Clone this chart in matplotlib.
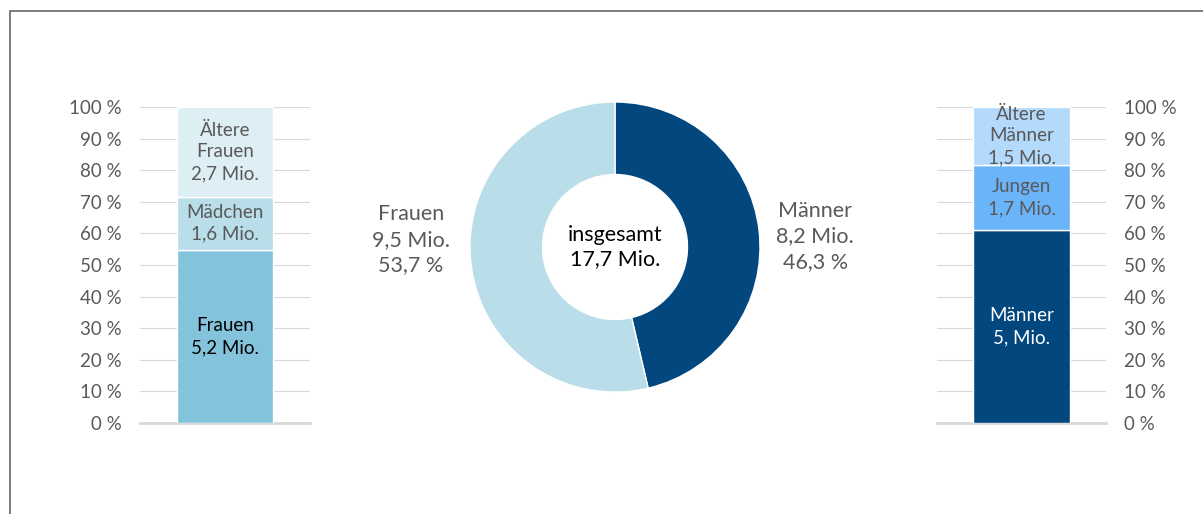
import matplotlib
matplotlib.use("Agg")
import matplotlib.pyplot as plt
from matplotlib.patches import Rectangle
import numpy as np

plt.rcParams["font.family"] = ["Lato", "DejaVu Sans"]

# Donut: total split
donut_labels = ["Männer", "Frauen"]
donut_values = [8.2, 9.5]
donut_shares = ["46,3 %", "53,7 %"]
donut_total = "17,7 Mio."

# Left stacked bar (women)
women_labels = ["Frauen\n5,2 Mio.", "Mädchen\n1,6 Mio.", "Ältere\nFrauen\n2,7 Mio."]
women_values = [5.2, 1.6, 2.7]

# Right stacked bar (men)
men_labels = ["Männer\n5, Mio.", "Jungen\n1,7 Mio.", "Ältere\nMänner\n1,5 Mio."]
men_values = [5.0, 1.7, 1.5]

pct_ticks = np.arange(0, 101, 10)
pct_labels = [f"{t} %" for t in pct_ticks]

GRAY = "#595959"
GRID = "#d9d9d9"

fig = plt.figure(figsize=(12.03, 5.14), dpi=100)

# outer frame
fig.patches.append(Rectangle((10 / 1203, -0.01), 1.1, (514 - 11) / 514 + 0.01,
                             transform=fig.transFigure, fill=False,
                             edgecolor="#666666", linewidth=1.2))


def stacked_bar(ax, values, labels, colors, text_colors, side):
    total = sum(values)
    pct = [v / total * 100 for v in values]
    bottom = 0
    for p, lab, c, tc in zip(pct, labels, colors, text_colors):
        ax.bar(0.5, p, width=0.57, bottom=bottom, color=c,
               edgecolor="white", linewidth=1, zorder=3)
        ax.text(0.5, bottom + p / 2, lab, ha="center", va="center",
                fontsize=13.5, color=tc, linespacing=1.35, zorder=4)
        bottom += p
    ax.set_xlim(0, 1)
    ax.set_ylim(0, 100)
    ax.set_yticks(pct_ticks)
    ax.set_yticklabels(pct_labels, fontsize=13.5, color=GRAY)
    ax.set_xticks([])
    ax.grid(axis="y", color=GRID, linewidth=0.8, zorder=0)
    for s in ["top", "left", "right"]:
        ax.spines[s].set_visible(False)
    ax.spines["bottom"].set_color(GRID)
    ax.spines["bottom"].set_linewidth(2)
    if side == "right":
        ax.yaxis.tick_right()
    ax.tick_params(axis="y", length=0, pad=13)


ax_l = fig.add_axes([140 / 1203, (514 - 423) / 514, 170 / 1203, 316 / 514])
stacked_bar(ax_l, women_values, women_labels,
            ["#84c3dc", "#b9dde9", "#ddeef5"],
            ["black", GRAY, GRAY], "left")

ax_r = fig.add_axes([937 / 1203, (514 - 423) / 514, 169 / 1203, 316 / 514])
stacked_bar(ax_r, men_values, men_labels,
            ["#03477f", "#6ab4f9", "#b3d9fb"],
            ["white", GRAY, GRAY], "right")

# donut
ax_d = fig.add_axes([465 / 1203, (514 - 397) / 514, 300 / 1203, 300 / 514])
ax_d.pie(donut_values, colors=["#03477f", "#b9dde9"], startangle=90,
         counterclock=False, radius=1,
         wedgeprops=dict(width=0.5, edgecolor="white", linewidth=1))
lim = 150 / 145
ax_d.set_xlim(-lim, lim)
ax_d.set_ylim(-lim, lim)
ax_d.set_aspect("equal")
ax_d.axis("off")


def mio(v):
    return f"{v:.1f}".replace(".", ",") + " Mio."


ax_d.text(0, 0.0, "insgesamt\n" + donut_total, ha="center", va="center",
          fontsize=15.5, color="black", linespacing=1.3)
ax_d.text(1.38, 0.075, f"{donut_labels[0]}\n{mio(donut_values[0])}\n{donut_shares[0]}",
          ha="center", va="center", fontsize=15.5, color=GRAY, linespacing=1.35, clip_on=False)
ax_d.text(-1.407, 0.05, f"{donut_labels[1]}\n{mio(donut_values[1])}\n{donut_shares[1]}",
          ha="center", va="center", fontsize=15.5, color=GRAY, linespacing=1.35, clip_on=False)

fig.savefig("out.png", dpi=100)
